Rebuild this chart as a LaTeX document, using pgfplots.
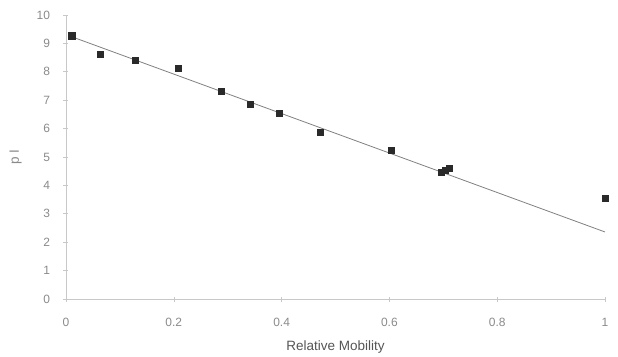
\documentclass[border=0pt]{standalone}
\usepackage{pgfplots}
\pgfplotsset{compat=1.18}
\usepackage{fontspec}
\setmainfont{Liberation Sans}
\definecolor{axisgray}{HTML}{C8C8C8}
\definecolor{ticktext}{HTML}{8A8A8A}
\definecolor{labeltext}{HTML}{555555}
\definecolor{linegray}{HTML}{808080}
\definecolor{markdark}{HTML}{2A2A2A}
\begin{document}
\begin{tikzpicture}
\begin{axis}[
  scale only axis,
  width=539pt, height=284pt,
  xmin=0, xmax=1, ymin=0, ymax=10,
  axis x line=bottom, axis y line=left,
  axis line style={axisgray, line width=0.8pt, -},
  xtick={0,0.2,0.4,0.6,0.8,1},
  ytick={0,1,...,10},
  xticklabels={0,0.2,0.4,0.6,0.8,1},
  tick align=center,
  major tick length=5pt,
  tick style={axisgray, line width=0.6pt},
  ticklabel style={font=\fontsize{12}{14}\selectfont, text=ticktext},
  /pgf/number format/assume math mode=true,
  xticklabel style={yshift=-13pt},
  yticklabel style={xshift=-10pt},
  xlabel={Relative Mobility},
  xlabel style={font=\fontsize{13.5}{16}\selectfont, text=labeltext, at={(ticklabel cs:0.5)}, yshift=-7pt},
  ylabel={p I},
  ylabel style={font=\fontsize{13.5}{16}\selectfont, text=ticktext, at={(ticklabel cs:0.5)}, yshift=8pt},
  clip=false,
]
\addplot[linegray, line width=0.8pt] coordinates {(0.007,9.26) (1,2.36)};
\addplot[only marks, mark=square*, mark size=3.1pt, mark options={fill=markdark, draw=markdark}, color=markdark] coordinates {
(0.0105,9.27)
(0.063,8.62)
(0.129,8.42)
(0.208,8.13)
(0.288,7.32)
(0.341,6.87)
(0.395,6.55)
(0.471,5.88)
(0.603,5.25)
(0.696,4.47)
(0.703,4.54)
(0.711,4.61)
(1.0,3.56)
};
\end{axis}
\pgfresetboundingbox
\path[use as bounding box] (-66pt,-57pt) rectangle (552pt,299pt);
\end{tikzpicture}
\end{document}
